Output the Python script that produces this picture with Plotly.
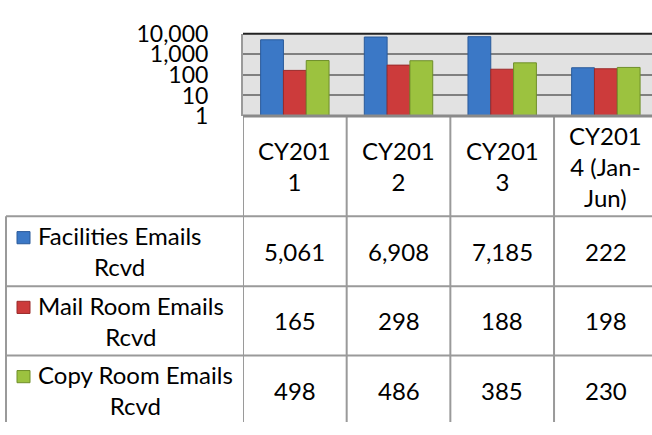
import plotly.graph_objects as go

# Daten
categories = ["CY2011", "CY2012", "CY2013", "CY2014 (Jan-Jun)"]
header_labels = ["CY201<br>1", "CY201<br>2", "CY201<br>3", "CY201<br>4 (Jan-<br>Jun)"]
series_names = ["Facilities Emails Rcvd", "Mail Room Emails Rcvd", "Copy Room Emails Rcvd"]
row_labels = ["Facilities Emails<br>Rcvd", "Mail Room Emails<br>Rcvd", "Copy Room Emails<br>Rcvd"]
facilities = [5061, 6908, 7185, 222]
mail_room = [165, 298, 188, 198]
copy_room = [498, 486, 385, 230]
tick_vals = [1, 10, 100, 1000, 10000]
tick_text = ["1", "10", "100", "1,000", "10,000"]

W, H = 652, 435
FONT = "Lato"
FS = 24
colors = ["#3b78c6", "#cc3b3b", "#9cc23f"]
edges = ["#2a5a9a", "#9a2a2a", "#6f8f2a"]
grid = "#9a9a9a"


def py(px):
    # Pixel von oben -> Paper-Koordinate
    return 1 - px / H


def pxx(px):
    return px / W


fig = go.Figure()
for name, vals, c, e in zip(series_names, [facilities, mail_room, copy_room], colors, edges):
    fig.add_trace(go.Bar(
        x=categories, y=vals, name=name,
        marker=dict(color=c, line=dict(color=e, width=1)),
    ))

shapes = []
annotations = []

# Tabellenlinien
for i in range(len(categories)):
    shapes.append(dict(type="line", xref="x", yref="paper", x0=i - 0.5, x1=i - 0.5,
                       y0=0, y1=py(108), line=dict(color=grid, width=2)))
for ypx in [215, 290, 364]:
    shapes.append(dict(type="line", xref="paper", yref="paper", x0=pxx(6), x1=1,
                       y0=py(ypx), y1=py(ypx), line=dict(color=grid, width=2)))
shapes.append(dict(type="line", xref="paper", yref="paper", x0=pxx(6), x1=pxx(6),
                   y0=0, y1=py(215), line=dict(color=grid, width=2)))
# Rahmen Diagramm
shapes.append(dict(type="line", xref="paper", yref="paper", x0=pxx(243), x1=1,
                   y0=py(20), y1=py(20), line=dict(color="#222222", width=2)))
shapes.append(dict(type="line", xref="paper", yref="paper", x0=pxx(243), x1=1,
                   y0=py(108), y1=py(108), line=dict(color="#8a8a8a", width=3)))

txt_font = dict(family=FONT, size=FS, color="black")

# Kopfzeile
for i, lab in enumerate(header_labels):
    annotations.append(dict(x=i, xref="x", y=py(161.5), yref="paper", text=lab,
                            xanchor="center", yanchor="middle",
                            showarrow=False, font=txt_font, align="center"))

# Zeilen
row_centers = [252.5, 327, 401]
for r, (lab, vals) in enumerate(zip(row_labels, [facilities, mail_room, copy_room])):
    yc = row_centers[r]
    shapes.append(dict(type="rect", xref="paper", yref="paper", x0=pxx(17), x1=pxx(30),
                       y0=py(yc - 8), y1=py(yc - 21), fillcolor=colors[r],
                       line=dict(color=edges[r], width=1)))
    annotations.append(dict(x=pxx(36), xref="paper", y=py(yc), yref="paper", text=lab,
                            xanchor="left", yanchor="middle", align="center",
                            showarrow=False, font=txt_font))
    for i, v in enumerate(vals):
        annotations.append(dict(x=i, xref="x", y=py(yc), yref="paper", text=f"{v:,}",
                                xanchor="center", yanchor="middle",
                                showarrow=False, font=txt_font))

fig.update_layout(
    width=W, height=H, autosize=False,
    margin=dict(l=0, r=0, t=0, b=0),
    paper_bgcolor="white", plot_bgcolor="#e2e2e2",
    barmode="group", bargap=0.34, bargroupgap=0,
    showlegend=False,
    xaxis=dict(domain=[pxx(243), 1], range=[-0.5, 3.445], showticklabels=False,
               showgrid=False, zeroline=False, fixedrange=True),
    yaxis=dict(domain=[py(108), py(20)], type="log", range=[0, 4],
               tickvals=tick_vals, ticktext=tick_text,
               ticks="outside", ticklen=28, tickcolor="rgba(0,0,0,0)",
               tickfont=dict(family=FONT, size=23, color="black"),
               showgrid=True, gridcolor="#808080", gridwidth=1.5,
               showline=True, linecolor="#9a9a9a", linewidth=2, zeroline=False),
    shapes=shapes,
    annotations=annotations,
)

# Seitenrand des Browsers entfernen, damit die Grafik bei (0,0) beginnt
fig.write_html("out.html", config={"displayModeBar": False},
               post_script="document.body.style.margin='0';")
